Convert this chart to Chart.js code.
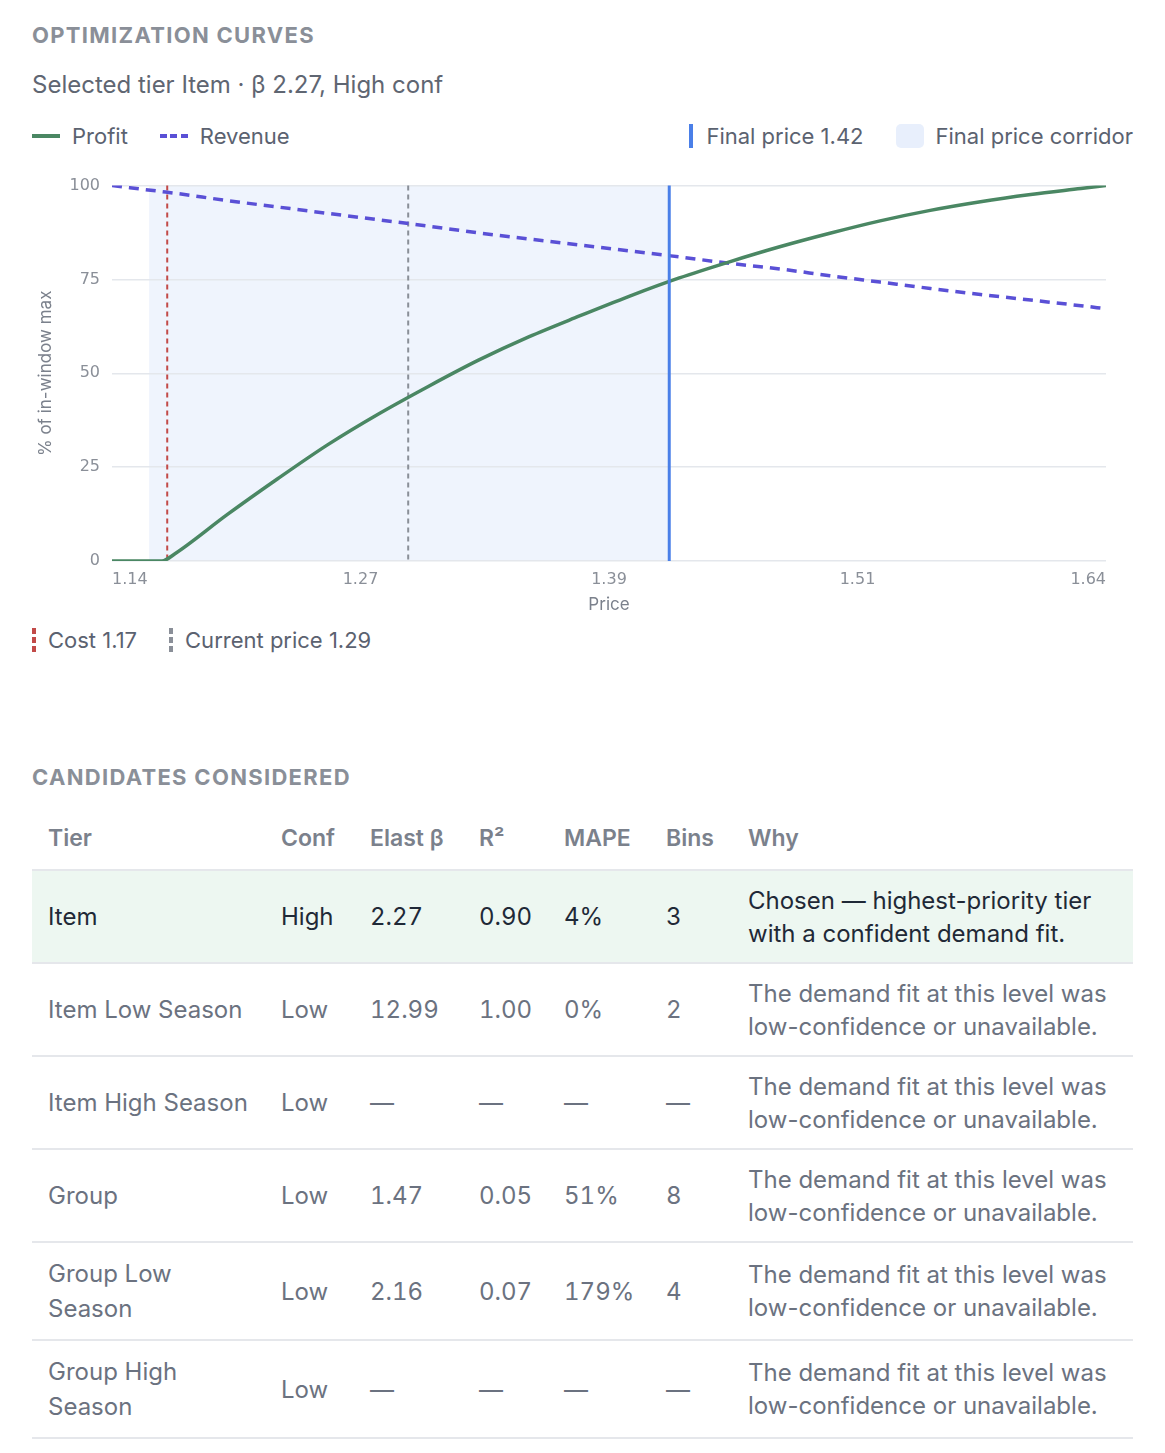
<!DOCTYPE html>
<html>
<head>
<meta charset="utf-8">
<title>Optimization curves</title>
<script src="https://cdn.jsdelivr.net/npm/chart.js"></script>
<style>
  body { margin: 0; background: #fff; font-family: Inter, "Noto Sans", sans-serif; color: #5b6270; }
  .wrap { width: 1101px; padding: 0 32px; }
  .section-title { margin: 0; font-size: 22px; line-height: 24px; font-weight: 700; letter-spacing: 1.3px; color: #8a8f98; }
  .subtitle { margin: 25px 0 0; font-size: 24px; line-height: 26px; color: #5f6672; }
  .legend { display: flex; justify-content: space-between; margin-top: 25px; height: 26px; font-size: 22px; line-height: 26px; }
  .legend .group { display: flex; align-items: center; }
  .item { display: flex; align-items: center; margin-right: 32px; }
  .group .item:last-child { margin-right: 0; }
  .sw-line { width: 28px; height: 4px; margin-right: 12px; }
  .sw-dash { width: 28px; height: 4px; margin-right: 12px; background: repeating-linear-gradient(90deg, #5a50d6 0 7px, transparent 7px 10.5px); }
  .sw-bar { width: 4px; height: 24px; margin-right: 13px; }
  .sw-box { width: 28px; height: 24px; border-radius: 5px; margin-right: 12px; background: #e8effc; }
  .sw-vdash { width: 4px; height: 24px; margin-right: 12px; }
  .chart-box { position: relative; width: 1101px; height: 456px; margin-top: 15px; }
  .legend2 { display: flex; margin-top: 7px; height: 26px; font-size: 22px; line-height: 26px; }
  .title2 { margin-top: 112px; }
  table { margin-top: 19px; width: 1101px; border-collapse: collapse; table-layout: fixed; font-size: 24px; }
  th { text-align: left; font-weight: 600; font-size: 23px; white-space: nowrap; color: #7b818c; padding: 13px 16px 14px; line-height: 34px; border-bottom: 2px solid #e5e7eb; }
  td { padding: 12.5px 16px; line-height: 33px; color: #6b7280; border-bottom: 2px solid #e5e7eb; vertical-align: middle; }
  td.num { font-variant-numeric: tabular-nums; }
  td.tier { line-height: 35.5px; padding-right: 11px; }
  tr.chosen td { background: #edf7f1; color: #1f2937; }
</style>
</head>
<body>
<div class="wrap">
  <div style="height:23px"></div>
  <h2 class="section-title">OPTIMIZATION CURVES</h2>
  <p class="subtitle">Selected tier Item · β 2.27, High conf</p>
  <div class="legend">
    <div class="group">
      <div class="item"><span class="sw-line" style="background:#4a8763"></span>Profit</div>
      <div class="item"><span class="sw-dash"></span>Revenue</div>
    </div>
    <div class="group">
      <div class="item"><span class="sw-bar" style="background:#4a7fe8"></span><span id="lblFinal"></span></div>
      <div class="item"><span class="sw-box"></span>Final price corridor</div>
    </div>
  </div>
  <div class="chart-box"><canvas id="curves"></canvas></div>
  <div class="legend2">
    <div class="item"><span class="sw-vdash" style="background:repeating-linear-gradient(180deg,#c24a48 0 6px,transparent 6px 9px)"></span><span id="lblCost"></span></div>
    <div class="item"><span class="sw-vdash" style="background:repeating-linear-gradient(180deg,#8a8f98 0 6px,transparent 6px 9px)"></span><span id="lblCurrent"></span></div>
  </div>
  <h2 class="section-title title2">CANDIDATES CONSIDERED</h2>
  <table>
    <colgroup>
      <col style="width:233px"><col style="width:89px"><col style="width:109px"><col style="width:85px">
      <col style="width:102px"><col style="width:82px"><col style="width:401px">
    </colgroup>
    <thead><tr><th>Tier</th><th>Conf</th><th>Elast β</th><th>R²</th><th>MAPE</th><th>Bins</th><th>Why</th></tr></thead>
    <tbody id="rows"></tbody>
  </table>
</div>
<script>
  // curve samples
  const prices = [1.1425, 1.1674, 1.1735, 1.2, 1.225, 1.25, 1.275, 1.3, 1.325, 1.35, 1.375,
    1.4, 1.425, 1.45, 1.475, 1.5, 1.525, 1.55, 1.575, 1.6, 1.625, 1.6375];
  const profitPct = [0, 0, 1.8, 12.4, 21.9, 31.0, 39.1, 46.5, 53.5, 59.7, 65.2,
    70.5, 75.4, 79.7, 83.7, 87.3, 90.6, 93.4, 95.7, 97.6, 99.2, 100];
  const revenuePct = [100, 98.4, 98.0, 96.0, 94.3, 92.6, 90.9, 89.2, 87.4, 85.8, 84.2,
    82.6, 81.0, 79.3, 77.8, 76.0, 74.3, 72.6, 71.0, 69.5, 68.0, 67.2];

  const costPrice = 1.17;
  const currentPrice = 1.29;
  const finalPrice = 1.42;
  const corridor = [1.161, 1.42];
  const priceRange = [1.1425, 1.6375];
  const yTicks = [0, 25, 50, 75, 100];

  // candidates table
  const tiers = ["Item", "Item Low Season", "Item High Season", "Group", "Group Low Season", "Group High Season"];
  const confs = ["High", "Low", "Low", "Low", "Low", "Low"];
  const betas = ["2.27", "12.99", "—", "1.47", "2.16", "—"];
  const r2s = ["0.90", "1.00", "—", "0.05", "0.07", "—"];
  const mapes = ["4%", "0%", "—", "51%", "179%", "—"];
  const bins = ["3", "2", "—", "8", "4", "—"];
  const chosenWhy = "Chosen — highest-priority tier with a confident demand fit.";
  const otherWhy = "The demand fit at this level was low-confidence or unavailable.";

  document.getElementById("lblFinal").textContent = "Final price " + finalPrice.toFixed(2);
  document.getElementById("lblCost").textContent = "Cost " + costPrice.toFixed(2);
  document.getElementById("lblCurrent").textContent = "Current price " + currentPrice.toFixed(2);

  const tbody = document.getElementById("rows");
  tiers.forEach((t, i) => {
    const tr = document.createElement("tr");
    if (i === 0) tr.className = "chosen";
    const cells = [t, confs[i], betas[i], r2s[i], mapes[i], bins[i], i === 0 ? chosenWhy : otherWhy];
    cells.forEach((c, j) => {
      const td = document.createElement("td");
      if (j === 0) td.className = "tier";
      else if (j >= 2 && j <= 5) td.className = "num";
      td.textContent = c;
      tr.appendChild(td);
    });
    tbody.appendChild(tr);
  });

  function vline(chart, value, color, width, dash) {
    const { ctx, chartArea, scales } = chart;
    const px = scales.x.getPixelForValue(value);
    ctx.save();
    ctx.strokeStyle = color;
    ctx.lineWidth = width;
    ctx.setLineDash(dash);
    ctx.beginPath();
    ctx.moveTo(px, chartArea.top);
    ctx.lineTo(px, chartArea.bottom);
    ctx.stroke();
    ctx.restore();
  }

  const markers = {
    id: "priceMarkers",
    beforeDraw: (chart) => {
      const { ctx, chartArea, scales } = chart;
      const x0 = scales.x.getPixelForValue(corridor[0]);
      const x1 = scales.x.getPixelForValue(corridor[1]);
      ctx.save();
      ctx.fillStyle = "#eff4fd";
      ctx.fillRect(x0, chartArea.top, x1 - x0, chartArea.bottom - chartArea.top);
      ctx.restore();
    },
    beforeDatasetsDraw: (chart) => {
      vline(chart, costPrice, "#c24a48", 2, [5, 4]);
      vline(chart, currentPrice, "#8a8f98", 2, [5, 4]);
    },
    afterDatasetsDraw: (chart) => {
      vline(chart, finalPrice, "#4a7fe8", 3, []);
    },
  };

  const tickFont = { family: "'DejaVu Sans'", size: 16 };
  const titleFont = { family: "Inter", size: 17 };

  new Chart(document.getElementById("curves"), {
    type: "line",
    data: {
      datasets: [
        {
          label: "Profit",
          data: prices.map((p, i) => ({ x: p, y: profitPct[i] })),
          borderColor: "#4a8763",
          borderWidth: 3.5,
          pointRadius: 0,
          cubicInterpolationMode: "monotone",
        },
        {
          label: "Revenue",
          data: prices.map((p, i) => ({ x: p, y: revenuePct[i] })),
          borderColor: "#5a50d6",
          borderWidth: 3.5,
          borderDash: [10, 7],
          pointRadius: 0,
          cubicInterpolationMode: "monotone",
        },
      ],
    },
    options: {
      responsive: true,
      maintainAspectRatio: false,
      devicePixelRatio: 1,
      animation: false,
      layout: { padding: { top: 9, right: 27, bottom: 5, left: 0 } },
      plugins: { legend: { display: false }, tooltip: { enabled: false } },
      scales: {
        x: {
          type: "linear",
          min: priceRange[0],
          max: priceRange[1],
          grid: { display: false },
          border: { display: false },
          ticks: {
            count: 5,
            align: "inner",
            padding: 1,
            color: "#8a8f98",
            font: tickFont,
            callback: (v) => v.toFixed(2),
          },
          title: { display: true, text: "Price", color: "#7b818c", font: titleFont, padding: 0 },
          afterFit: (scale) => { scale.height = 54; },
        },
        y: {
          min: 0,
          max: 100,
          afterBuildTicks: (scale) => { scale.ticks = yTicks.map((v) => ({ value: v })); },
          grid: { color: "#e4e7ec", lineWidth: 1.5, drawTicks: false },
          border: { display: false },
          ticks: { padding: 12, color: "#8a8f98", font: tickFont },
          title: { display: true, text: "% of in-window max", color: "#7b818c", font: titleFont },
          afterFit: (scale) => { scale.width = 80; },
        },
      },
    },
    plugins: [markers],
  });
</script>
</body>
</html>
